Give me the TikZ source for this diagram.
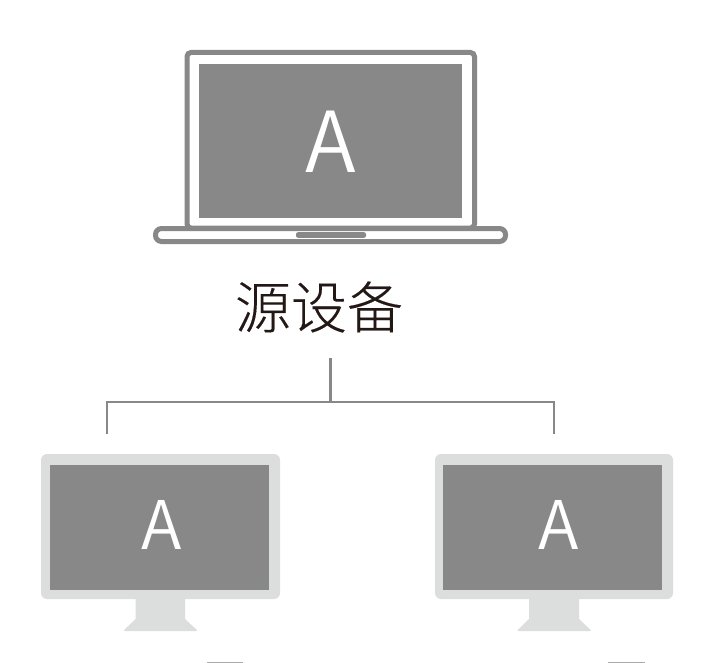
\documentclass[tikz,border=0pt]{standalone}
\usepackage{fontspec}
\newfontfamily\cjk{Noto Sans CJK SC DemiLight}
\newfontfamily\cjkthin[FakeBold=0.2]{Noto Sans CJK SC Light}
\definecolor{dev}{HTML}{888888}
\definecolor{pale}{HTML}{DCDDDD}
\definecolor{ink}{HTML}{231815}
\definecolor{edge}{HTML}{AAAAAA}
\tikzset{
  outline/.style={draw=dev,line width=5pt,fill=white,rounded corners=4pt},
  screen/.style={fill=dev,draw=none},
  bezel/.style={fill=pale,draw=none,rounded corners=6pt},
  link/.style={draw=dev,line width=2.4pt}
}
\begin{document}
\begin{tikzpicture}[x=1pt,y=-1pt]
\useasboundingbox (0,0) rectangle (709,663);
\fill[white] (0,0) rectangle (709,663);
% laptop
\draw[outline] (187,52.5) rectangle (474.5,228);
\fill[screen] (199,64) rectangle (462,217.5);
\draw[outline,rounded corners=6pt] (155.5,228.5) rectangle (505.5,241.5);
\fill[dev,rounded corners=2pt] (296,232.2) rectangle (366,237.8);
\node[text=white,font=\cjk\fontsize{84}{84}\selectfont,inner sep=0pt] (lapA) at (330.5,142) {A};
\node[text=ink,font=\cjkthin\fontsize{56}{56}\selectfont,inner sep=0pt] (src) at (319,307) {源设备};
% connectors
\coordinate (top) at (330.5,358);
\coordinate (mid) at (330.5,401.8);
\coordinate (la) at (106.8,434);
\coordinate (ra) at (554.2,434);
\draw[link] (top) -- (mid);
\draw[link] (la) |- (mid) -| (ra);
% left monitor
\fill[bezel] (41,454) rectangle (280,599);
\fill[pale] (135.7,598) -- (185,598) -- (185,619) -- (197,630) -- (196.5,631.2) -- (124.5,631.2) -- (124,630) -- (135.7,619) -- cycle;
\fill[screen] (50,465) rectangle (268.5,590);
\node[text=white,font=\cjk\fontsize{67}{67}\selectfont,inner sep=0pt] (leftA) at (162,525) {A};
% right monitor
\fill[bezel] (435,454) rectangle (673,599);
\fill[pale] (529,598) -- (579,598) -- (579,619) -- (590.7,630) -- (590.2,631.2) -- (518.2,631.2) -- (517.7,630) -- (529,619) -- cycle;
\fill[screen] (443,465) rectangle (662,590);
\node[text=white,font=\cjk\fontsize{67}{67}\selectfont,inner sep=0pt] (rightA) at (558.5,525) {A};
% cropped shapes at the lower edge
\fill[edge] (206.7,661.8) rectangle (243,663);
\fill[edge] (607.7,661.8) rectangle (645,663);
\end{tikzpicture}
\end{document}
